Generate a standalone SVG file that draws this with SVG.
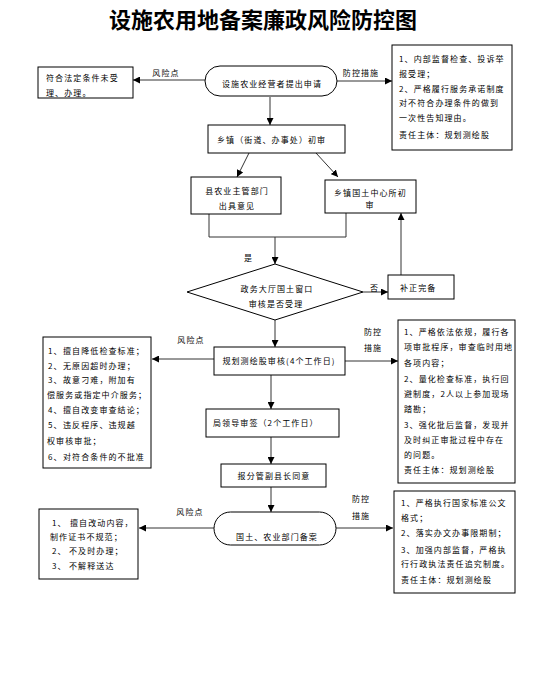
<svg xmlns="http://www.w3.org/2000/svg" width="539" height="686" viewBox="0 0 539 686">
<style>
.box{fill:#fff;stroke:#000;stroke-width:1}
.t{font-family:"Noto Sans CJK SC","Noto Sans",sans-serif;font-size:8px;letter-spacing:1.1px;fill:#000}
.tm{text-anchor:middle}
.title{font-family:"Noto Sans CJK SC",sans-serif;font-size:22px;font-weight:bold;text-anchor:middle;fill:#000}
.c{fill:none;stroke:#333;stroke-width:1}
.ca{fill:none;stroke:#333;stroke-width:1;marker-end:url(#ah)}
</style>
<defs>
<marker id="ah" viewBox="0 0 10 10" refX="10" refY="5" markerWidth="7" markerHeight="7" markerUnits="userSpaceOnUse" orient="auto">
<path d="M0,0 L10,5 L0,10 z" fill="#000"/>
</marker>
</defs>
<rect width="539" height="686" fill="#fff"/>
<text class="title" x="263" y="28">设施农用地备案廉政风险防控图</text>

<g id="connectors">
<line class="ca" x1="205" y1="80" x2="133" y2="80"/>
<text class="t tm" x="166" y="76">风险点</text>
<line class="ca" x1="337" y1="81" x2="392" y2="81"/>
<text class="t tm" x="361" y="76">防控措施</text>
<line class="ca" x1="270" y1="97" x2="270" y2="125"/>
<line class="ca" x1="249" y1="153" x2="237" y2="177"/>
<line class="ca" x1="316" y1="153" x2="338" y2="177"/>
<polyline class="c" points="209,214 209,237 346,237 346,213"/>
<line class="ca" x1="275" y1="237" x2="275" y2="264"/>
<text class="t" x="244" y="261">是</text>
<line class="ca" x1="363" y1="292" x2="388" y2="292"/>
<text class="t" x="370" y="291">否</text>
<line class="ca" x1="401" y1="275" x2="401" y2="213"/>
<line class="ca" x1="275" y1="320" x2="275" y2="347"/>
<line class="ca" x1="214" y1="359" x2="152" y2="359"/>
<text class="t tm" x="191" y="343">风险点</text>
<line class="ca" x1="345" y1="361" x2="398" y2="361"/>
<text class="t tm" x="373" y="335">防控</text>
<text class="t tm" x="373" y="351">措施</text>
<line class="ca" x1="271" y1="375" x2="271" y2="409"/>
<line class="ca" x1="271" y1="437" x2="271" y2="464"/>
<line class="ca" x1="271" y1="487" x2="271" y2="512"/>
<line class="ca" x1="214" y1="528" x2="139" y2="528"/>
<text class="t tm" x="190" y="515">风险点</text>
<line class="ca" x1="336" y1="528" x2="393" y2="528"/>
<text class="t tm" x="361" y="502">防控</text>
<text class="t tm" x="361" y="519">措施</text>
</g>

<g id="n-risk1">
<rect class="box" x="38" y="67" width="95" height="31"/>
<text class="t" x="46" y="81">符合法定条件未受</text>
<text class="t" x="46" y="96">理、办理。</text>
</g>

<g id="n-apply">
<rect class="box" x="205" y="66" width="132" height="30" rx="15"/>
<text class="t tm" x="272" y="87">设施农业经营者提出申请</text>
</g>

<g id="n-ctrl1">
<rect class="box" x="392" y="45" width="120" height="105"/>
<text class="t" x="399" y="62">1、内部监督检查、投诉举</text>
<text class="t" x="399" y="77">报受理；</text>
<text class="t" x="399" y="92">2、严格履行服务承诺制度</text>
<text class="t" x="399" y="106">对不符合办理条件的做到</text>
<text class="t" x="399" y="121">一次性告知理由。</text>
<text class="t" x="399" y="138">责任主体：规划测绘股</text>
</g>

<g id="n-town">
<rect class="box" x="208" y="125" width="137" height="28"/>
<text class="t" x="217" y="143">乡镇（街道、办事处）初审</text>
</g>

<g id="n-county">
<rect class="box" x="191" y="177" width="90" height="37"/>
<text class="t tm" x="237" y="194">县农业主管部门</text>
<text class="t tm" x="237" y="209">出具意见</text>
</g>

<g id="n-landcenter">
<rect class="box" x="325" y="180" width="91" height="33"/>
<text class="t" x="334" y="196">乡镇国土中心所初</text>
<text class="t tm" x="370" y="208">审</text>
</g>

<g id="n-decide">
<polygon class="box" points="275,264 363,292 275,320 187,292"/>
<text class="t tm" x="277" y="292">政务大厅国土窗口</text>
<text class="t tm" x="276" y="307">审核是否受理</text>
</g>

<g id="n-fix">
<rect class="box" x="388" y="275" width="66" height="24"/>
<text class="t" x="400" y="291">补正完备</text>
</g>

<g id="n-review">
<rect class="box" x="214" y="347" width="131" height="28"/>
<text class="t tm" x="279" y="364">规划测绘股审核(4个工作日)</text>
</g>

<g id="n-risk2">
<rect class="box" x="43" y="337" width="108" height="131"/>
<text class="t" x="48" y="354">1、<tspan x="63">擅自降低检查标准；</tspan></text>
<text class="t" x="48" y="369">2、<tspan x="63">无原因超时办理；</tspan></text>
<text class="t" x="48" y="383">3、<tspan x="63">故意刁难，附加有</tspan></text>
<text class="t" x="47" y="398">偿服务或指定中介服务；</text>
<text class="t" x="48" y="413">4、<tspan x="63">擅自改变审查结论；</tspan></text>
<text class="t" x="48" y="428">5、<tspan x="63">违反程序、违规越</tspan></text>
<text class="t" x="47" y="444">权审核审批；</text>
<text class="t" x="48" y="460">6、<tspan x="63">对符合条件的不批准</tspan></text>
</g>

<g id="n-ctrl2">
<rect class="box" x="398" y="320" width="117" height="163"/>
<text class="t" x="404" y="335">1、严格依法依规，履行各</text>
<text class="t" x="404" y="350">项审批程序，审查临时用地</text>
<text class="t" x="404" y="366">各项内容；</text>
<text class="t" x="404" y="382">2、量化检查标准，执行回</text>
<text class="t" x="404" y="397">避制度，2人以上参加现场</text>
<text class="t" x="404" y="412">踏勘；</text>
<text class="t" x="404" y="428">3、强化批后监督，发现并</text>
<text class="t" x="404" y="443">及时纠正审批过程中存在</text>
<text class="t" x="404" y="458">的问题。</text>
<text class="t" x="404" y="473">责任主体：规划测绘股</text>
</g>

<g id="n-leader">
<rect class="box" x="206" y="409" width="133" height="28"/>
<text class="t" x="213" y="426">局领导审签（2个工作日）</text>
</g>

<g id="n-vice">
<rect class="box" x="221" y="464" width="105" height="23"/>
<text class="t tm" x="274" y="479">报分管副县长同意</text>
</g>

<g id="n-record">
<rect class="box" x="214" y="512" width="122" height="33" rx="16.5"/>
<text class="t tm" x="277" y="540">国土、农业部门备案</text>
</g>

<g id="n-risk3">
<rect class="box" x="39" y="509" width="99" height="70"/>
<text class="t" x="52" y="526">1、<tspan x="70">擅自改动内容，</tspan></text>
<text class="t" x="50" y="540">制作证书不规范；</text>
<text class="t" x="52" y="554">2、<tspan x="69">不及时办理；</tspan></text>
<text class="t" x="52" y="569">3、<tspan x="69">不解释送达</tspan></text>
</g>

<g id="n-ctrl3">
<rect class="box" x="394" y="491" width="121" height="102"/>
<text class="t" x="401" y="506">1、严格执行国家标准公文</text>
<text class="t" x="401" y="521">格式；</text>
<text class="t" x="401" y="536">2、落实办文办事限期制；</text>
<text class="t" x="401" y="553">3、加强内部监督，严格执</text>
<text class="t" x="401" y="567">行行政执法责任追究制度。</text>
<text class="t" x="401" y="583">责任主体：规划测绘股</text>
</g>
</svg>
